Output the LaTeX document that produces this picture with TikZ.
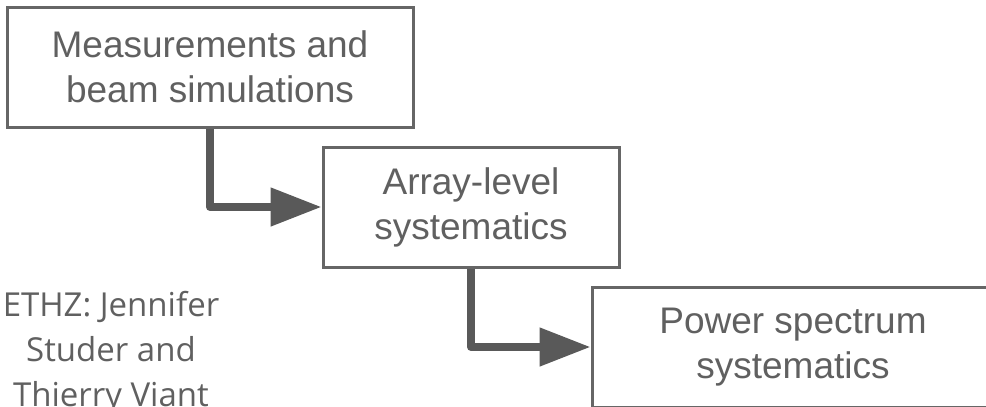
\documentclass[tikz,border=0pt]{standalone}
\usepackage{fontspec}
\setmainfont{Liberation Sans}
\newfontfamily\notefont{Open Sans}
\usetikzlibrary{arrows.meta}
\definecolor{boxline}{HTML}{666666}
\definecolor{flowline}{HTML}{595959}
\definecolor{inktext}{HTML}{606060}
\tikzset{
  stagebox/.style={draw=boxline, line width=3pt, fill=white, inner sep=0pt,
    align=center, text=inktext, font=\fontsize{37}{45}\selectfont},
  flowarrow/.style={draw=flowline, line width=8pt, line join=round,
    -{Triangle[length=51pt, width=37pt]}},
  notetext/.style={align=center, text=inktext, inner sep=0pt,
    font=\notefont\fontsize{33}{45}\selectfont}
}
\begin{document}
\begin{tikzpicture}[x=1pt, y=-1pt]
  \useasboundingbox (0,0) rectangle (986,407);
  \clip (0,0) rectangle (986,407);
  % process stages
  \node[stagebox, minimum width=406pt, minimum height=120pt] (meas) at (210,67)
    {Measurements and\\beam simulations};
  \node[stagebox, minimum width=296pt, minimum height=120pt] (array) at (471,207)
    {Array-level\\systematics};
  \node[stagebox, minimum width=402pt, minimum height=120pt] (power) at (793,347)
    {Power spectrum\\systematics};
  % flow between stages
  \draw[flowarrow] (meas.south) |- (array.west);
  \draw[flowarrow] (array.south) |- (power.west);
  % credit (base anchor sits on the last line)
  \node[notetext, anchor=base] (credit) at (111,406)
    {ETHZ: Jennifer\\Studer and\\Thierry Viant};
\end{tikzpicture}
\end{document}
